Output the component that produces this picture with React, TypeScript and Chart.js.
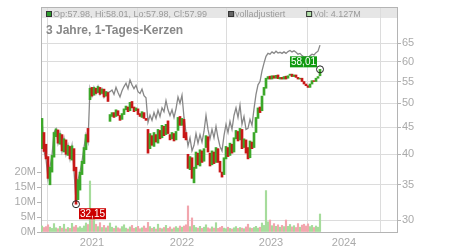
import React, { useEffect, useRef } from "react";
import { Chart, registerables } from "chart.js";

Chart.register(...registerables);

// ---- data ----
const candleOpen = [
  41.0, 44.0, 41.8, 39.6, 35.0, 37.0, 39.5, 43.2, 44.5, 41.8,
  43.6, 40.4, 42.6, 39.8, 41.4, 39.0, 41.0, 37.8, 32.8, 34.2,
  36.6, 38.4, 40.8, 44.8, 50.8, 53.6, 51.8, 53.4, 52.4, 53.6,
  52.2, 53.2, 51.6, 52.4, 46.2, 47.2, 48.0, 47.2, 48.4, 47.4,
  46.6, 47.6, 48.6, 49.2, 48.4, 50.4, 49.2, 48.4, 48.8, 47.8,
  47.0, 48.0, 46.8, 44.6, 41.0, 43.4, 41.4, 43.6, 42.0, 44.4,
  43.0, 45.2, 43.6, 46.3, 43.6, 42.8, 43.8, 42.6, 44.4, 47.2,
  45.4, 46.6, 44.0, 40.0, 37.4, 39.4, 35.3, 37.6, 40.2, 38.0,
  40.6, 38.8, 41.2, 43.2, 40.2, 38.2, 40.4, 38.6, 41.0, 38.8,
  37.0, 36.6, 39.2, 41.2, 39.8, 41.8, 40.4, 42.8, 44.2, 42.6,
  44.6, 41.2, 42.6, 41.2, 39.4, 42.2, 41.2, 44.0, 46.8, 49.2,
  48.4, 51.8, 53.4, 55.6, 56.3, 55.6, 56.4, 55.8, 56.6, 55.6,
  56.0, 55.6, 56.3, 55.8, 56.5, 56.8, 56.2, 56.6, 56.0, 55.6,
  55.8, 55.0, 54.4, 54.0, 53.6, 54.4, 55.2, 55.0, 55.8, 56.4,
];
const candleClose = [
  46.8, 40.5, 39.2, 36.0, 37.8, 39.8, 44.0, 44.7, 42.0, 43.8,
  40.6, 42.8, 40.0, 41.6, 39.2, 41.5, 37.2, 32.15, 35.8, 37.0,
  38.8, 41.2, 43.6, 42.2, 53.4, 51.6, 53.6, 52.2, 53.8, 52.0,
  53.2, 51.4, 52.6, 50.4, 47.6, 48.0, 47.0, 48.6, 47.4, 46.4,
  47.8, 48.8, 49.4, 48.2, 50.2, 49.0, 48.2, 49.0, 47.6, 47.2,
  48.2, 46.8, 46.4, 40.2, 43.8, 41.6, 44.0, 42.2, 44.6, 42.8,
  45.4, 43.4, 45.6, 43.8, 42.6, 44.0, 42.4, 44.2, 47.0, 45.4,
  46.8, 43.0, 42.6, 37.6, 39.6, 36.0, 37.8, 40.4, 38.2, 40.8,
  38.6, 41.0, 43.4, 40.4, 38.0, 40.6, 38.4, 41.2, 38.6, 37.0,
  36.2, 39.4, 41.4, 39.6, 42.0, 40.2, 43.0, 44.4, 42.4, 44.8,
  41.0, 42.8, 40.2, 39.2, 42.4, 41.0, 44.0, 47.0, 49.0, 48.0,
  51.6, 53.6, 55.8, 56.2, 55.6, 56.4, 55.8, 56.5, 55.7, 56.0,
  55.6, 56.2, 55.6, 56.4, 56.8, 56.2, 56.6, 56.0, 55.6, 55.8,
  55.0, 54.4, 54.0, 53.6, 54.4, 55.2, 55.0, 55.8, 56.2, 58.01,
];
const adjustedClose = [
  46.8, 40.5, 39.2, 36.0, 37.8, 39.8, 44.0, 44.7, 42.0, 43.8,
  40.6, 42.8, 40.0, 41.6, 39.2, 41.5, 37.2, 32.6, 35.8, 37.0,
  38.8, 41.2, 43.6, 42.2, 53.4, 51.6, 53.6, 52.2, 53.8, 52.0,
  53.2, 51.4, 52.6, 52.4, 52.6, 53.0, 52.0, 53.6, 52.4, 51.4,
  52.8, 53.8, 54.6, 53.3, 55.4, 54.2, 53.3, 54.1, 52.6, 52.2,
  53.2, 51.7, 51.2, 46.0, 47.5, 46.4, 48.0, 46.8, 48.5, 47.2,
  49.0, 48.2, 50.6, 48.6, 47.4, 48.6, 47.0, 48.8, 51.4, 50.0,
  51.8, 47.0, 44.0, 41.5, 43.0, 40.6, 41.6, 43.8, 42.0, 43.6,
  42.2, 44.2, 47.4, 44.6, 42.8, 44.6, 43.0, 45.2, 43.0, 41.4,
  40.6, 43.4, 45.6, 44.0, 46.2, 44.6, 47.4, 49.0, 47.0, 49.6,
  45.6, 47.2, 44.6, 44.8, 46.6, 45.4, 48.8, 52.0, 54.2, 55.0,
  57.6, 59.6, 61.4, 62.2, 62.0, 62.6, 62.2, 62.8, 62.3, 62.5,
  62.2, 62.6, 62.2, 62.7, 63.0, 62.6, 62.9, 62.5, 62.0, 62.2,
  61.6, 61.2, 61.3, 61.0, 61.6, 62.0, 61.8, 62.4, 62.8, 64.5,
];
const volumeM = [
  2.0, 1.5, 1.8, 2.4, 1.6, 1.2, 2.8, 1.4, 1.1, 1.9,
  1.3, 2.6, 1.0, 1.5, 1.2, 2.9, 1.7, 2.2, 1.4, 1.8,
  1.3, 2.0, 3.0, 2.5, 17.0, 5.5, 4.2, 2.6, 1.8, 3.1,
  1.5, 2.2, 1.4, 2.0, 3.0, 1.6, 1.2, 2.0, 1.4, 1.1,
  1.8, 2.4, 1.3, 1.0, 1.7, 2.2, 1.2, 1.5, 1.9, 1.1,
  1.4, 2.0, 1.3, 3.2, 1.8, 1.2, 1.6, 1.0, 2.6, 1.3,
  1.1, 1.5, 2.2, 1.2, 1.7, 1.0, 1.4, 1.8, 1.3, 2.0,
  1.6, 2.0, 2.4, 8.7, 1.8, 4.7, 2.2, 1.5, 1.3, 1.9,
  1.2, 1.6, 2.4, 1.4, 1.1, 1.7, 1.3, 3.1, 1.2, 1.5,
  1.9, 1.3, 1.1, 1.6, 1.2, 1.0, 1.4, 1.8, 1.2, 1.5,
  1.3, 1.1, 1.7, 2.6, 1.4, 1.2, 1.5, 1.9, 1.3, 1.6,
  3.0, 2.2, 13.8, 3.4, 4.0, 2.1, 2.8, 1.9, 2.4, 1.6,
  2.2, 1.8, 4.0, 1.9, 2.5, 1.7, 2.1, 1.5, 2.8, 1.6,
  2.3, 2.6, 2.0, 2.7, 1.8, 2.2, 1.5, 2.0, 1.6, 6.0,
];
const yearLabels = ["2021", "2022", "2023", "2024"];
const yearTickPos = [25, 70, 114.5, 151];
const priceTicks = [30, 35, 40, 45, 50, 55, 60, 65];
const volumeTicks = [0, 5, 10, 15, 20];
const lastBar = { op: "57.98", hi: "58.01", lo: "57.98", cl: "57.99", vol: "4.127M" };
const titleText = "3 Jahre, 1-Tages-Kerzen";

const FONT = "'Liberation Sans', Arial, sans-serif";
const UP = "#3ca82a";
const DOWN = "#c81818";
const UP_VOL = "#a6dc9c";
const DOWN_VOL = "#f2a6ae";

const isUp = (i: number) => candleClose[i] >= candleOpen[i];

const overlayPlugin = {
  id: "overlay",
  beforeDraw(chart: any) {
    const { ctx, chartArea: a } = chart;
    ctx.save();
    ctx.fillStyle = "#e6e6e6";
    ctx.fillRect(a.left, a.top, a.right - a.left, 11);
    ctx.restore();
  },
  afterDraw(chart: any) {
    const { ctx, chartArea: a, scales } = chart;
    ctx.save();
    // top frame line
    ctx.strokeStyle = "#b4b4b4";
    ctx.lineWidth = 1;
    ctx.beginPath();
    ctx.moveTo(a.left, a.top + 0.5);
    ctx.lineTo(a.right + 1, a.top + 0.5);
    ctx.stroke();

    // legend band items
    ctx.font = `9px ${FONT}`;
    ctx.textBaseline = "alphabetic";
    const items = [
      { color: "#2e9d2e", text: `Op:${lastBar.op}, Hi:${lastBar.hi}, Lo:${lastBar.lo}, Cl:${lastBar.cl}` },
      { color: "#666666", text: "volladjustiert" },
      { color: "#b2dfa9", text: `Vol: ${lastBar.vol}` },
    ];
    let x = a.left + 5;
    for (const it of items) {
      ctx.fillStyle = it.color;
      ctx.fillRect(x, a.top + 4, 6, 6);
      ctx.strokeStyle = "#333";
      ctx.strokeRect(x + 0.5, a.top + 4.5, 5, 5);
      ctx.fillStyle = "#9a9a9a";
      ctx.fillText(it.text, x + 7, a.top + 10);
      x += 7 + ctx.measureText(it.text).width + 21;
    }

    // title
    ctx.font = `bold 12px ${FONT}`;
    ctx.fillStyle = "#888888";
    ctx.fillText(titleText, a.left + 5, a.top + 27);

    // min / max markers
    const xs = scales.x;
    const yp = scales.yPrice;
    const lows = candleOpen.map((o, i) => Math.min(o, candleClose[i]));
    const highs = candleOpen.map((o, i) => Math.max(o, candleClose[i]));
    let minI = 0;
    let maxI = 0;
    lows.forEach((v, i) => { if (v < lows[minI]) minI = i; });
    highs.forEach((v, i) => { if (v >= highs[maxI]) maxI = i; });

    const marker = (i: number, v: number, color: string, below: boolean) => {
      const px = xs.getPixelForValue(i);
      const py = yp.getPixelForValue(v);
      ctx.beginPath();
      ctx.arc(px, py, 3.5, 0, Math.PI * 2);
      ctx.strokeStyle = "#222";
      ctx.lineWidth = 1;
      ctx.stroke();
      ctx.font = `10px ${FONT}`;
      const txt = v.toFixed(2).replace(".", ",");
      const w = ctx.measureText(txt).width + 2;
      const h = 11;
      const bx = below ? px + 3 : px - 3 - w;
      const by = below ? py + 4 : py - 2 - h;
      ctx.fillStyle = color;
      ctx.fillRect(bx, by, w, h);
      ctx.fillStyle = "#ffffff";
      ctx.textBaseline = "middle";
      ctx.fillText(txt, bx + 1, by + h / 2 + 0.5);
      ctx.textBaseline = "alphabetic";
    };
    marker(minI, lows[minI], "#cc0000", true);
    marker(maxI, highs[maxI], "#119a11", false);
    ctx.restore();
  },
};

export default function App() {
  const ref = useRef<HTMLCanvasElement>(null);
  useEffect(() => {
    const canvas = ref.current;
    if (!canvas) return;
    Chart.defaults.font.family = FONT;
    const chart = new Chart(canvas, {
      type: "bar",
      data: {
        datasets: [
          {
            type: "line",
            label: "volladjustiert",
            data: adjustedClose.map((v, i) => ({ x: i, y: v })),
            yAxisID: "yPrice",
            borderColor: "#888888",
            borderWidth: 1.3,
            pointRadius: 0,
            tension: 0,
            order: 3,
          } as any,
          {
            type: "bar",
            label: "Kerzen",
            data: candleOpen.map((o, i) => ({ x: i, y: [Math.min(o, candleClose[i]), Math.max(o, candleClose[i])] })),
            yAxisID: "yPrice",
            backgroundColor: candleOpen.map((_, i) => (isUp(i) ? UP : DOWN)),
            borderWidth: 0,
            barThickness: 2,
            grouped: false,
            order: 1,
          } as any,
          {
            type: "bar",
            label: "Vol",
            data: volumeM.map((v, i) => ({ x: i, y: v })),
            yAxisID: "yVol",
            backgroundColor: volumeM.map((_, i) => (isUp(i) ? UP_VOL : DOWN_VOL)),
            borderWidth: 0,
            barThickness: 1.5,
            grouped: false,
            order: 2,
          } as any,
        ],
      },
      options: {
        responsive: false,
        animation: false,
        devicePixelRatio: 1,
        layout: { padding: { top: 7, left: 0, right: 0, bottom: 0 } },
        plugins: { legend: { display: false }, tooltip: { enabled: false }, title: { display: false } },
        scales: {
          x: {
            type: "linear",
            min: -0.5,
            max: 177.5,
            offset: false,
            bounds: "data",
            afterBuildTicks: (s: any) => { s.ticks = yearTickPos.map((v) => ({ value: v })); },
            afterFit: (s: any) => { s.height = 18; s.paddingLeft = 0; s.paddingRight = 0; },
            ticks: {
              color: "#aaaaaa",
              font: { size: 11 },
              padding: 4,
              maxRotation: 0,
              autoSkip: false,
              callback: (_v: any, i: number) => yearLabels[i],
            },
            grid: { color: "#dcdcdc", drawTicks: false },
            border: { display: true, color: "#b4b4b4" },
          },
          yPrice: {
            type: "logarithmic",
            position: "right",
            min: 28.47,
            max: 76.2,
            bounds: "data",
            afterBuildTicks: (s: any) => { s.ticks = priceTicks.map((v) => ({ value: v })); },
            afterFit: (s: any) => { s.width = 53; s.paddingTop = 0; s.paddingBottom = 0; },
            ticks: { color: "#aaaaaa", font: { size: 11 }, padding: 1, callback: (v: any) => String(v) },
            grid: { color: "#dcdcdc", drawTicks: true, tickLength: 4, tickColor: "#b4b4b4" },
            border: { display: true, color: "#b4b4b4" },
          },
          yVol: {
            type: "linear",
            position: "left",
            min: 0,
            max: 75,
            bounds: "data",
            afterBuildTicks: (s: any) => { s.ticks = volumeTicks.map((v) => ({ value: v })); },
            afterFit: (s: any) => { s.width = 41; s.paddingTop = 0; s.paddingBottom = 0; },
            ticks: { color: "#aaaaaa", font: { size: 11 }, padding: 1, callback: (v: any) => `${v}M` },
            grid: { drawOnChartArea: false, drawTicks: true, tickLength: 4, tickColor: "#b4b4b4" },
            border: { display: true, color: "#b4b4b4" },
          },
        },
      } as any,
      plugins: [overlayPlugin],
    });
    return () => chart.destroy();
  }, []);
  return (
    <div style={{ position: "fixed", left: 0, top: 0, width: 450, height: 250, background: "#fff" }}>
      <canvas ref={ref} width={450} height={250} style={{ display: "block", width: 450, height: 250 }} />
    </div>
  );
}
